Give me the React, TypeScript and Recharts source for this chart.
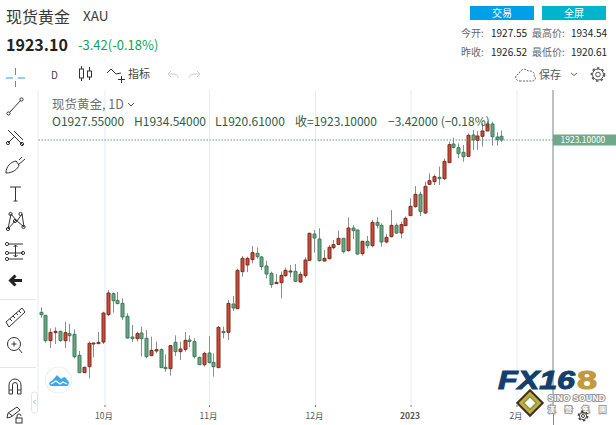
import React from 'react';
import { ComposedChart, Bar, XAxis, YAxis, CartesianGrid, ReferenceLine, Rectangle } from 'recharts';

const opens = [1716.3,1712.7,1682.3,1691.9,1693.5,1682.3,1690.7,1689.9,1664.7,1643.9,1651.1,1678.7,1678.7,1680.7,1713.5,1738.7,1730.7,1727.1,1711.5,1686.7,1684.7,1691.5,1685.1,1664.3,1669.9,1671.5,1650.3,1648.7,1680.3,1669.1,1671.9,1683.1,1681.1,1662.3,1653.5,1667.5,1656.3,1649.9,1693.5,1692.3,1726.3,1720.7,1765.1,1773.1,1779.5,1787.1,1782.7,1771.9,1763.1,1750.7,1751.9,1760.3,1764.7,1765.5,1752.7,1760.3,1778.7,1810.3,1804.3,1777.9,1780.7,1793.9,1797.9,1805.1,1790.3,1817.5,1815.1,1786.7,1801.5,1796.3,1824.3,1820.7,1800.7,1807.1,1820.7,1811.5,1820.3,1832.3,1843.1,1857.9,1835.5,1869.9,1873.1,1878.3,1876.7,1895.9,1918.3,1913.9,1908.3,1903.5,1929.1,1922.7,1927.5,1933.9,1942.3,1926.7,1927.55];
const highs = [1722.3,1713.1,1697.1,1698.3,1694.3,1705.1,1702.3,1695.9,1669.9,1651.1,1681.1,1679.9,1692.7,1717.1,1743.1,1739.9,1740.7,1733.1,1715.1,1701.1,1693.1,1699.1,1695.1,1687.1,1681.1,1673.1,1665.9,1677.1,1688.7,1681.1,1692.7,1688.7,1685.1,1663.1,1669.1,1687.9,1667.1,1699.9,1699.1,1731.1,1735.9,1768.7,1783.9,1783.1,1795.9,1794.3,1783.9,1778.3,1765.1,1762.3,1765.1,1769.9,1773.1,1774.3,1765.1,1782.3,1811.9,1815.1,1817.1,1791.1,1797.1,1803.1,1814.3,1805.1,1830.3,1821.1,1815.1,1802.3,1807.9,1827.1,1830.3,1823.1,1810.3,1839.1,1823.1,1825.1,1831.1,1853.1,1867.9,1861.1,1873.1,1883.1,1881.9,1891.1,1901.1,1921.1,1925.9,1919.1,1917.1,1931.1,1935.1,1933.9,1943.1,1945.9,1945.1,1932.3,1934.54];
const lows = [1709.9,1679.9,1673.5,1678.3,1681.1,1673.5,1681.1,1661.1,1643.9,1643.9,1637.1,1662.3,1678.3,1678.3,1711.9,1715.9,1726.3,1707.1,1684.7,1680.7,1681.1,1663.1,1661.1,1663.9,1667.1,1649.9,1645.1,1640.3,1663.9,1659.1,1669.1,1674.3,1661.1,1653.1,1651.1,1655.1,1639.1,1649.9,1685.1,1683.1,1717.9,1720.7,1759.1,1764.7,1775.1,1780.7,1767.1,1757.1,1745.5,1750.3,1733.1,1759.1,1758.3,1752.7,1751.9,1757.9,1778.3,1787.9,1777.1,1777.1,1779.9,1791.9,1797.1,1787.1,1789.1,1804.3,1785.1,1784.3,1793.1,1794.3,1817.1,1795.1,1799.1,1806.3,1810.3,1805.1,1820.3,1832.3,1841.9,1831.9,1834.7,1869.1,1869.1,1869.1,1875.1,1895.9,1913.1,1901.1,1897.1,1903.1,1911.1,1911.5,1915.1,1933.9,1916.3,1916.3,1920.61];
const closes = [1713.5,1682.3,1692.3,1693.5,1682.3,1691.9,1688.3,1663.1,1643.9,1650.3,1679.1,1679.5,1680.3,1715.5,1739.5,1730.3,1726.7,1710.7,1685.5,1684.7,1690.7,1684.7,1663.1,1670.7,1671.5,1649.9,1648.7,1676.3,1669.1,1672.3,1682.7,1681.5,1663.1,1653.5,1667.1,1655.9,1651.1,1698.3,1691.9,1727.1,1721.5,1766.7,1781.1,1781.1,1787.9,1783.1,1771.1,1762.3,1749.5,1752.3,1760.7,1766.7,1765.9,1753.5,1761.9,1779.1,1811.1,1805.5,1778.3,1781.1,1794.3,1797.5,1805.1,1789.1,1817.5,1814.3,1786.3,1801.5,1796.3,1824.3,1820.7,1800.7,1806.3,1820.7,1811.5,1821.5,1829.1,1843.5,1857.9,1837.1,1867.5,1874.3,1879.1,1876.7,1897.5,1917.5,1914.3,1906.7,1903.1,1928.7,1923.1,1927.9,1933.9,1942.3,1927.1,1923.5,1923.1];

const monthTicks = [13.33, 35.1, 57.2, 77.1, 99.17];
const monthLabels = ['10月', '11月', '12月', '2023', '2月'];
const lastPrice = 1923.1;

const candles = opens.map((o, i) => ({
  idx: i,
  open: o,
  high: highs[i],
  low: lows[i],
  close: closes[i],
  range: [lows[i], highs[i]],
}));

const UP_FILL = '#cf4a37';
const UP_EDGE = '#7d2a1f';
const DOWN_FILL = '#6aa685';
const DOWN_EDGE = '#3c7a5b';
const CJK = '"Noto Sans CJK SC", "Noto Sans", sans-serif';

function Candle(props: any) {
  const { x, y, width, height, payload } = props;
  const { open, close, high, low } = payload;
  const span = high - low || 1;
  const at = (p: number) => y + ((high - p) / span) * height;
  const up = close >= open;
  const top = at(Math.max(open, close));
  const bottom = at(Math.min(open, close));
  const cx = Math.round(x + width / 2) + 0.5;
  return (
    <g>
      <line x1={cx} x2={cx} y1={y} y2={y + height} stroke="#8a8f8c" strokeWidth={1} />
      <Rectangle
        x={cx - 1.5}
        y={top}
        width={3}
        height={Math.max(bottom - top, 1)}
        fill={up ? UP_FILL : DOWN_FILL}
        stroke={up ? UP_EDGE : DOWN_EDGE}
        strokeWidth={1}
      />
    </g>
  );
}

function MonthTick(props: any) {
  const { x, index } = props;
  const label = monthLabels[index];
  const bold = label === '2023';
  return (
    <text x={x - 1} y={419} textAnchor="middle" fontSize={8.5} fontFamily={CJK} fontWeight={bold ? 700 : 400} fill="#555">
      {label}
    </text>
  );
}

function PriceTick(props: any) {
  const { y } = props;
  return (
    <g>
      <rect x={553} y={y - 5.5} width={72} height={11} fill="#6fa88a" />
      <text x={560.5} y={y + 3} fontSize={8.5} fontFamily={CJK} fill="#fff">1923.10000</text>
    </g>
  );
}

const T = ({ x, y, size = 11, color = '#333', weight = 400, children }: any) => (
  <div style={{ position: 'absolute', left: x, top: y, fontSize: size, color, fontWeight: weight, fontFamily: CJK, lineHeight: 1, whiteSpace: 'pre' }}>{children}</div>
);

const ink = '#333';

function SideIcons() {
  return (
    <svg width={40} height={425} style={{ position: 'absolute', left: 0, top: 0 }} fill="none" stroke={ink} strokeWidth={1}>
      <g stroke="#2f9be0" strokeWidth={1}>
        <path d="M6 78h7M18 78h7M15.5 68v7M15.5 81v6" />
      </g>
      <circle cx={8.5} cy={113.5} r={1.6} /><circle cx={21.5} cy={99.5} r={1.6} /><path d="M9.5 112.5L20.5 100.5" />
      <path d="M8 130l14 14M8 143l6-6M14 131l9 9M18 140l5 5" />
      <circle cx={8} cy={143} r={1.6} /><circle cx={22} cy={144} r={1.6} />
      <path d="M6 173c0-7 5-11 10-12l3 4c-1 4-6 8-13 8zM18 165l7-6M19 160l3-3" />
      <path d="M10 187h11M15.5 187v14M13.5 201h4" />
      <path d="M8 229l3-15 6 7 5-7 2 13-8-7-8 9z" />
      <circle cx={10.5} cy={214} r={1.6} /><circle cx={20.5} cy={214} r={1.6} /><circle cx={8} cy={229} r={1.6} /><circle cx={23.5} cy={227} r={1.6} /><circle cx={15} cy={221} r={1.6} />
      <path d="M8 244h15M8 253h15M8 259h15M15.5 245v12M13.5 247l2-2 2 2M13.5 255l2 2 2-2" />
      <circle cx={7} cy={244} r={1.6} /><circle cx={7} cy={253} r={1.6} /><circle cx={23} cy={253} r={1.6} /><circle cx={7} cy={259} r={1.6} />
      <path d="M11 280.5h11M15.5 275.5l-5 5 5 5" stroke="#222" strokeWidth={3} />
      <path d="M0 299.5h36M0 367.5h36" stroke="#e6e6e6" />
      <path d="M6 322l16-14 3 4-16 15z M10 319l2 2M13 316l2 2M16 313l2 2M19 311l2 2" />
      <circle cx={14} cy={344} r={6.5} /><path d="M19 349l3 4M11.5 344h5M14 341.5v5" />
      <path d="M9 394v-9a6 6 0 0 1 12 0v9h-3.5v-9a2.5 2.5 0 0 0-5 0v9zM9 390h3.5M17.5 390H21" />
      <path d="M7 418l1-5 9-6 3 3-9 7zM8.5 413l4 3" />
      <rect x={16} y={418} width={6} height={5} /><path d="M17 418v-2a2 2 0 0 1 4 0" />
    </svg>
  );
}

function Gear({ cx, cy, r, stroke = '#555' }: any) {
  return (
    <g fill="none" stroke={stroke}>
      <circle cx={cx} cy={cy} r={r} strokeWidth={1} />
      <circle cx={cx} cy={cy} r={r + 1} strokeWidth={1.6} strokeDasharray="2.4 2.4" />
      <circle cx={cx} cy={cy} r={r * 0.42} strokeWidth={1} />
    </g>
  );
}

function TopIcons() {
  return (
    <svg width={616} height={90} style={{ position: 'absolute', left: 0, top: 0 }} fill="none" stroke={ink} strokeWidth={1}>
      <path d="M81.5 66v15M89.5 67v13" />
      <rect x={79.5} y={69} width={4} height={9} fill="#fff" /><rect x={87.5} y={71} width={4} height={6} fill="#fff" />
      <path d="M107 73l4-4 5 5 5-1" />
      <path d="M118 79.5h7M121.5 76v7" />
      <path d="M168 74h6c3 0 4 2 4 4M171 71l-3 3 3 3M200 74h-6c-3 0-5 2-5 4M197 71l3 3-3 3" stroke="#ccc" />
      <path d="M521 81h-1c-5 0-6-6-1-7 1-5 7-6 9-3 5-1 7 3 6 5 3 2 1 5-2 5z" strokeDasharray="2 1.2" stroke="#666" />
      <path d="M571 73l3 2.5 3-2.5" stroke="#666" />
      <Gear cx={598} cy={74.5} r={5.5} />
    </svg>
  );
}

function Logos() {
  return (
    <svg width={616} height={425} style={{ position: 'absolute', left: 0, top: 0, pointerEvents: 'none' }}>
      <path d="M553.5 405V425" stroke="#8b8b8b" />
      <circle cx={58.5} cy={380} r={13} fill="#fff" stroke="#eceff1" strokeWidth={1.2} />
      <path d="M51 386c-3-1-2-5 1-5l5-6 4 4 3-2c2 0 3 3 3 3 3 1 2 6 0 6z" fill="#3aa8ee" />
      <path d="M51 384l5-3 4 3 3-2 4 2" stroke="#fff" strokeWidth={1.2} fill="none" />
      <g fontFamily='"Liberation Sans", sans-serif' fontWeight={700} fontSize={25}>
        <text x={498} y={389} fontStyle="italic" fill="#123f6e" stroke="#123f6e" strokeWidth={1} textLength={77} lengthAdjust="spacingAndGlyphs">FX16</text>
        <text x={577} y={389} fill="#c29a3e" stroke="#c29a3e" strokeWidth={1} textLength={20} lengthAdjust="spacingAndGlyphs">8</text>
      </g>
      <g transform="translate(530 403)">
        <rect x={-9} y={-9} width={18} height={18} transform="rotate(45)" fill="#c9a646" stroke="#3a3320" strokeWidth={2} />
        <rect x={-4.5} y={-4.5} width={9} height={9} transform="rotate(45)" fill="#fff" stroke="#7fa33a" strokeWidth={1.6} />
      </g>
      <g fontFamily='"Liberation Sans", sans-serif' fontWeight={700} fill="#fff" stroke="#9a9a9a" strokeWidth={2} paintOrder="stroke">
        <text x={548} y={401} fontSize={8.5} textLength={57}>SINO SOUND</text>
        <text x={548} y={411.5} fontSize={7} fontFamily={CJK} letterSpacing={10}>漢聲集團</text>
      </g>
      <Gear cx={583} cy={416} r={3.6} stroke="#444" />
      <rect x={31.5} y={392} width={6} height={21} rx={3} fill="#fff" stroke="#e4e6ea" />
      <path d="M35.5 400l-2 2 2 2" fill="none" stroke="#9bb8d6" />
    </svg>
  );
}

export default function App() {
  return (
    <div style={{ position: 'absolute', left: 0, top: 0, width: 616, height: 425, background: '#fff', overflow: 'hidden' }}>
      <div style={{ position: 'absolute', left: 0, top: 0 }}>
        <ComposedChart
          width={616}
          height={425}
          data={candles}
          margin={{ top: 90, right: 0, bottom: 0, left: 38 }}
        >
          <CartesianGrid horizontal={false} stroke="#e4edf4" />
          <XAxis
            dataKey="idx"
            type="number"
            domain={[-0.625, 106.67]}
            ticks={monthTicks}
            tick={<MonthTick />}
            interval={0}
            height={20}
            axisLine={false}
            tickLine={{ stroke: '#777' }}
            tickSize={2}
            allowDataOverflow
          />
          <YAxis
            orientation="right"
            width={63}
            domain={[1605.1, 1983.1]}
            ticks={[lastPrice]}
            tick={<PriceTick />}
            axisLine={{ stroke: '#8b8b8b' }}
            tickLine={false}
            allowDataOverflow
            interval={0}
          />
          <ReferenceLine y={lastPrice} stroke="#5e9a7c" strokeDasharray="1.5 1.5" strokeWidth={1} />
          <Bar dataKey="range" barSize={4} isAnimationActive={false} shape={<Candle />} />
        </ComposedChart>
      </div>

      <T x={6} y={8} size={16} color="#3a3a3a">现货黄金</T>
      <T x={83} y={9} size={13.5} color="#3a3a3a">XAU</T>
      <T x={6} y={36} size={16} color="#222" weight={700}>1923.10</T>
      <T x={78} y={38} size={13} color="#12a05c">-3.42(-0.18%)</T>

      <div style={{ position: 'absolute', left: 470, top: 6, width: 64, height: 14, background: '#00a0e9', color: '#fff', fontSize: 10, lineHeight: '14px', textAlign: 'center', fontFamily: CJK }}>交易</div>
      <div style={{ position: 'absolute', left: 542, top: 6, width: 64, height: 14, background: '#00b4cb', color: '#fff', fontSize: 10, lineHeight: '14px', textAlign: 'center', fontFamily: CJK }}>全屏</div>

      <T x={461} y={28} size={10} color="#666">今开:</T>
      <T x={491} y={28} size={10} color="#222">1927.55</T>
      <T x={532} y={28} size={10} color="#666">最高价:</T>
      <T x={571} y={28} size={10} color="#222">1934.54</T>
      <T x={461} y={47} size={10} color="#666">昨收:</T>
      <T x={491} y={47} size={10} color="#222">1926.52</T>
      <T x={532} y={47} size={10} color="#666">最低价:</T>
      <T x={571} y={47} size={10} color="#222">1920.61</T>

      <T x={51} y={70} size={10} color="#444">D</T>
      <T x={128} y={68} size={11} color="#444">指标</T>
      <T x={539} y={69} size={11} color="#555">保存</T>

      <T x={52} y={98} size={12.5} color="#6f6f6f">现货黄金, 1D</T>
      <svg width={8} height={6} style={{ position: 'absolute', left: 127, top: 102 }} fill="none" stroke="#555"><path d="M1 1l3 3 3-3" /></svg>
      <T x={52} y={115} size={12} color="#2f5d49">O1927.55000</T>
      <T x={134} y={115} size={12} color="#2f5d49">H1934.54000</T>
      <T x={215} y={115} size={12} color="#2f5d49">L1920.61000</T>
      <T x={295} y={115} size={12} color="#2f5d49">收=1923.10000</T>
      <T x={388} y={115} size={12} color="#2f5d49">−3.42000 (−0.18%)</T>

      <SideIcons />
      <TopIcons />
      <Logos />
    </div>
  );
}
